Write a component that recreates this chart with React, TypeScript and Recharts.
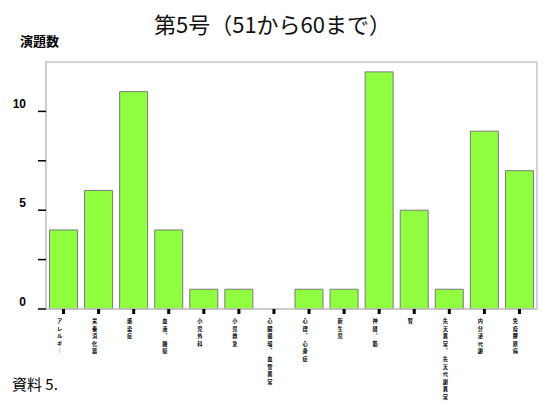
import React from 'react';
import { BarChart, Bar, XAxis, YAxis, ReferenceArea } from 'recharts';

const categories = [
    'アレルギー',
    '栄養消化器',
    '感染症',
    '血液、腫瘍',
    '小児外科',
    '小児救急',
    '心臓循環、血管異常',
    '心理、心身症',
    '新生児',
    '神経、筋',
    '腎',
    '先天異常、先天代謝異常',
    '内分泌代謝',
    '免疫膠原病',
];
const counts = [4, 6, 11, 4, 1, 1, 0, 1, 1, 12, 5, 1, 9, 7];
const yTicks = [0, 2.5, 5, 7.5, 10];
const yLabels = [0, 5, 10];

const data = categories.map((name, i) => ({ name, count: counts[i] }));

const jp = '"Noto Sans CJK JP", "Noto Sans", sans-serif';

// vertical forms for the stacked tick labels
const vert = (c: string) => (c === '、' ? '︑' : c === 'ー' ? '｜' : c);

const YTick = (props: any) => {
    const { x, y, payload } = props;
    if (!yLabels.includes(payload.value)) return null;
    return (
        <text x={x - 10} y={y - 3} textAnchor="end" fontSize={12} fontWeight={700}
            fontFamily="Arial, 'Liberation Sans', sans-serif" fill="#000">
            {payload.value}
        </text>
    );
};

const XTick = (props: any) => {
    const { x, y, payload } = props;
    const chars = Array.from(String(payload.value));
    return (
        <text fontSize={5.2} fontWeight={700} fontFamily={jp} fill="#000" textAnchor="middle">
            {chars.map((c, i) => (
                <tspan key={i} x={x - 4} y={y + 5 + i * 7.6}>{vert(c)}</tspan>
            ))}
        </text>
    );
};

export default function App() {
    return (
        <div style={{ position: 'absolute', left: 0, top: 0, width: 550, height: 408, background: '#fff' }}>
            <div style={{ position: 'absolute', left: 0, width: 545, top: 7, textAlign: 'center',
                fontFamily: jp, fontSize: 22, fontWeight: 400, color: '#111' }}>
                第5号（51から60まで）
            </div>
            <div style={{ position: 'absolute', left: 20, top: 31, fontFamily: jp, fontSize: 13, fontWeight: 700 }}>
                演題数
            </div>
            <div style={{ position: 'absolute', left: 12, top: 373, fontFamily: jp, fontSize: 15 }}>
                資料 5.
            </div>
            <BarChart width={550} height={408} data={data}
                margin={{ top: 62, right: 13, bottom: 9, left: 0 }}
                barCategoryGap="10%">
                <ReferenceArea y1={0} y2={12.5} fill="none" stroke="#c8c8c8" strokeWidth={1.5} ifOverflow="extendDomain" />
                <XAxis dataKey="name" height={90} interval={0} axisLine={{ stroke: '#c8c8c8', strokeWidth: 1.5 }}
                    tickLine={{ stroke: '#000', strokeWidth: 3 }} tickSize={5} tickMargin={4} tick={<XTick />} />
                <YAxis width={46} domain={[0, 12.5]} ticks={yTicks} interval={0}
                    axisLine={{ stroke: '#c8c8c8', strokeWidth: 1.5 }}
                    tickLine={{ stroke: '#000', strokeWidth: 1.5 }} tickSize={8} tick={<YTick />} />
                <Bar dataKey="count" fill="#8fff3f" stroke="#7a7a7a" strokeWidth={1} isAnimationActive={false} />
            </BarChart>
        </div>
    );
}
